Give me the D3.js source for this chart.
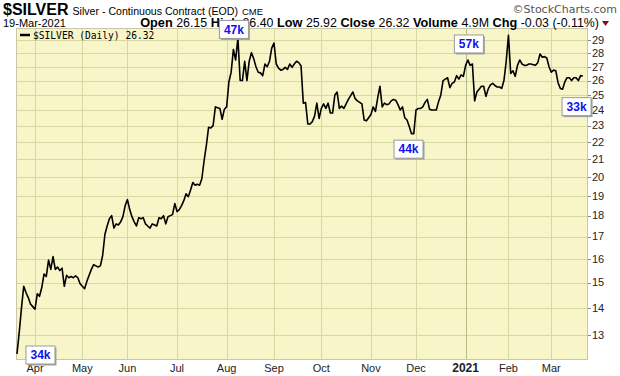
<!DOCTYPE html>
<html><head><meta charset="utf-8">
<script src="https://cdn.jsdelivr.net/npm/d3@7/dist/d3.min.js"></script>
<style>
html,body{margin:0;padding:0;background:#fff;}
svg{display:block;font-family:"Liberation Sans",Arial,sans-serif;}
</style></head>
<body><svg id="c" width="620" height="376"></svg>
<script>
// ---- data ----
const startDate = [2020, 2, 20];   // 20-Mar-2020
const endDate   = [2021, 2, 19];   // 19-Mar-2021
const holidays = ["2020-04-10","2020-05-25","2020-07-03","2020-09-07","2020-11-26",
                  "2020-12-25","2021-01-01","2021-01-18","2021-02-15"];
const closes = [
 12.35,13.1,14.0,14.85,14.6,14.4,14.15,14.05,13.95,14.55,
 14.45,14.8,15.35,15.25,15.95,15.55,16.1,15.55,15.65,15.5,
 15.6,14.85,15.3,15.2,15.25,15.2,15.28,15.2,14.95,14.85,
 14.75,15.05,15.3,15.55,15.75,15.7,15.65,15.7,16.15,17.1,
 17.5,17.85,18.0,17.4,17.6,17.55,17.7,17.95,18.5,18.8,
 18.3,17.95,17.7,17.5,17.9,17.85,17.9,17.6,17.5,17.4,
 17.6,17.55,17.5,17.9,17.85,18.0,17.6,17.95,18.0,18.05,
 18.6,18.2,18.3,18.5,18.75,19.1,18.95,19.3,19.7,19.55,
 19.6,19.55,19.9,20.9,21.8,22.9,22.85,23.0,24.2,24.15,
 24.1,23.4,24.05,24.2,25.9,26.6,28.3,27.5,29.2,26.0,
 26.0,27.4,26.0,27.4,28.05,27.6,27.0,26.6,26.55,26.35,
 27.2,27.0,27.4,28.4,28.8,27.2,26.9,26.75,26.8,26.95,
 26.8,27.2,26.95,27.2,27.4,27.3,27.05,24.45,24.5,23.1,
 23.1,23.25,23.6,24.45,23.45,24.1,24.4,24.1,24.45,23.8,
 23.8,25.0,25.2,24.1,24.25,24.1,24.4,24.7,24.95,25.2,
 24.75,24.6,24.5,24.4,23.35,23.3,23.5,23.7,24.2,23.9,
 24.8,25.6,24.2,24.45,24.35,24.4,24.6,24.7,24.65,24.35,
 24.0,24.2,23.5,23.35,22.95,22.5,22.5,24.0,24.1,24.1,
 24.2,24.5,24.7,24.05,24.0,24.0,24.0,24.55,25.0,26.0,
 26.1,26.2,25.5,25.8,25.9,26.35,26.1,26.4,26.3,27.1,
 27.5,27.1,27.2,24.6,25.2,25.4,25.6,25.6,24.9,25.4,
 25.7,25.8,25.65,25.55,25.55,25.45,26.0,27.4,29.4,26.5,
 26.7,26.3,27.1,27.5,27.2,27.1,27.1,27.2,27.2,27.15,
 27.1,27.3,27.95,27.7,27.75,27.65,27.0,26.6,26.75,26.7,
 25.85,25.45,25.4,25.9,26.2,26.2,26.0,26.2,26.2,26.0,
 26.35,26.32
];
const yTicks = [13,14,15,16,17,18,19,20,21,22,23,24,25,26,27,28,29];
const volIndex = [0, 98, 175, 200, 242];
const volText  = ["34k","47k","44k","57k","33k"];
const quoteLabels = ["Open","High","Low","Close","Volume","Chg"];
const quoteValues = ["26.15","26.40","25.92","26.32","4.9M","-0.03 (-0.11%)"];

// ---- trading calendar ----
const hol = new Set(holidays);
const fmtISO = d3.utcFormat("%Y-%m-%d");
const dates = d3.utcDay.range(new Date(Date.UTC(...startDate)), d3.utcDay.offset(new Date(Date.UTC(...endDate)),1))
  .filter(d => d.getUTCDay() !== 0 && d.getUTCDay() !== 6 && !hol.has(fmtISO(d)));
const data = closes.map((v,i) => ({i, v, d: dates[i]}));

// ---- layout ----
const svg = d3.select("#c");
const L = 16, R = 588, T = 28, B = 360;
const x = d3.scaleLinear().domain([-0.43, 253.28]).range([L, R]);
const y = d3.scaleLog().domain([12.15, 30.0]).range([B, T]);

svg.append("rect").attr("x",L).attr("y",T).attr("width",R-L).attr("height",B-T)
  .attr("fill","#f8f6c8");

// horizontal grid
svg.append("g").selectAll("line").data(yTicks).join("line")
  .attr("x1",L).attr("x2",R).attr("y1",d=>Math.round(y(d))+0.5).attr("y2",d=>Math.round(y(d))+0.5)
  .attr("stroke","#d6d9a2").attr("stroke-width",1);

// month ticks
const monthTicks = [];
for (let k=1;k<dates.length;k++){
  if (dates[k].getUTCMonth() !== dates[k-1].getUTCMonth()) monthTicks.push(k);
}
svg.append("g").selectAll("line").data(monthTicks).join("line")
  .attr("x1",d=>Math.round(x(d))+0.5).attr("x2",d=>Math.round(x(d))+0.5)
  .attr("y1",T).attr("y2",B)
  .attr("stroke",d=>dates[d].getUTCMonth()===0 ? "#b5bd86" : "#d6d9a2").attr("stroke-width",1);

// border
svg.append("rect").attr("x",L+0.5).attr("y",T+0.5).attr("width",R-L-1).attr("height",B-T-1)
  .attr("fill","none").attr("stroke","#c8c8a8");

// x labels
svg.append("g").selectAll("text").data(monthTicks).join("text")
  .attr("x",d=>x(d)).attr("y",372).attr("text-anchor","middle")
  .attr("font-size",d=>dates[d].getUTCMonth()===0?"12px":"11px")
  .attr("font-weight",d=>dates[d].getUTCMonth()===0?"bold":"normal")
  .attr("fill","#222")
  .text(d=>dates[d].getUTCMonth()===0 ? d3.utcFormat("%Y")(dates[d]) : d3.utcFormat("%b")(dates[d]));

// y axis labels + ticks
const ya = svg.append("g");
ya.selectAll("line").data(yTicks).join("line")
  .attr("x1",R).attr("x2",R+3).attr("y1",d=>Math.round(y(d))+0.5).attr("y2",d=>Math.round(y(d))+0.5)
  .attr("stroke","#888");
ya.selectAll("text").data(yTicks).join("text")
  .attr("x",R+4).attr("y",d=>y(d)).attr("dy","0.35em")
  .attr("font-size","11px").attr("fill","#222").text(d=>d);

// price line
svg.append("path").datum(data)
  .attr("d", d3.line().x(d=>x(d.i)).y(d=>y(d.v)))
  .attr("fill","none").attr("stroke","#000").attr("stroke-width",1.6).attr("stroke-linejoin","round");

// legend
svg.append("line").attr("x1",20).attr("x2",30).attr("y1",35).attr("y2",35).attr("stroke","#000").attr("stroke-width",2.5);
svg.append("text").attr("x",33).attr("y",39).attr("font-family","'DejaVu Sans Mono',monospace")
  .attr("font-size","9.6px").attr("fill","#000").text("$SILVER (Daily) " + closes[closes.length-1].toFixed(2));

// header
const h1 = svg.append("text").attr("x",3).attr("y",15).attr("fill","#000");
h1.append("tspan").attr("font-size","16px").attr("font-weight","bold").text("$SILVER");
h1.append("tspan").attr("dx",4).attr("font-size","10.6px").text("Silver - Continuous Contract (EOD)");
h1.append("tspan").attr("dx",4).attr("font-size","9.5px").text("CME");
svg.append("text").attr("x",617).attr("y",13).attr("text-anchor","end").attr("font-size","11px")
  .attr("font-family","'DejaVu Sans',Verdana,sans-serif")
  .attr("fill","#555").text("\u00A9StockCharts.com");
svg.append("text").attr("x",3).attr("y",27).attr("font-size","11px").attr("fill","#000").text("19-Mar-2021");
const q = svg.append("text").attr("x",599).attr("y",27).attr("text-anchor","end").attr("font-size","12.4px").attr("fill","#000");
quoteLabels.forEach((lab,k)=>{
  q.append("tspan").attr("font-weight","bold").attr("font-size","12.7px").text((k?" ":"")+lab+" ");
  q.append("tspan").text(quoteValues[k]);
});
svg.append("path").attr("d","M602,21 L609,21 L605.5,26 Z").attr("fill","#8b0a1a");

// volume annotations (box centre offsets from the mark they describe)
const volOffset = [[23,0.5],[-4.5,-9],[-3.5,15],[0.5,-16.5],[13.5,17]];
const vg = svg.append("g");
volIndex.forEach((idx,k)=>{
  const cx = x(idx) + volOffset[k][0], cy = y(closes[idx]) + volOffset[k][1];
  const w = 29, h = 18;
  vg.append("rect").attr("x",cx-w/2+2).attr("y",cy-h/2+2).attr("width",w).attr("height",h).attr("fill","#a0a0a0");
  vg.append("rect").attr("x",cx-w/2+0.5).attr("y",cy-h/2+0.5).attr("width",w).attr("height",h)
    .attr("fill","#fff").attr("stroke","#9a9a9a");
  vg.append("text").attr("x",cx+0.5).attr("y",cy+0.5).attr("dy","0.36em").attr("text-anchor","middle")
    .attr("font-size","12px").attr("font-weight","bold").attr("fill","#1010f0").text(volText[k]);
});
</script></body></html>
